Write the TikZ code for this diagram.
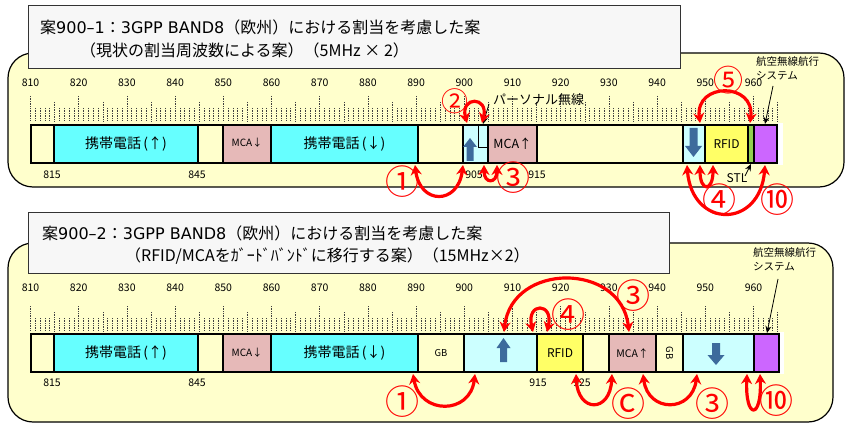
\documentclass[tikz,border=0pt]{standalone}
\usepackage{fontspec}
\setmainfont{Noto Sans CJK JP}
\newfontfamily\latfont{DejaVu Sans}
\usetikzlibrary{arrows.meta}
\definecolor{panelc}{HTML}{FFFFCC}
\definecolor{titlef}{HTML}{F7F7F7}
\definecolor{titled}{HTML}{333333}
\definecolor{cyanb}{HTML}{66FFFF}
\definecolor{pinkb}{HTML}{E6B9B8}
\definecolor{ltblue}{HTML}{CCFFFF}
\definecolor{yellowb}{HTML}{FFFF66}
\definecolor{greenb}{HTML}{92D050}
\definecolor{purpleb}{HTML}{CC66FF}
\definecolor{arrowblue}{HTML}{3D6B9C}
\definecolor{creamb}{HTML}{FFFFCC}
\newcommand\bandbox[6]{%
  \node[bandbox, fill=#5, minimum width={(#3-#2)*1pt}] (#1) at (#2,#4) {#6};}
\newcommand\uparrowshape[6]{% cx, top(tip), bottom, head w, shaft w, head h
  \fill[arrowblue] ({#1-#5/2},#3) -- ({#1-#5/2},{#2+#6}) -- ({#1-#4/2},{#2+#6}) -- (#1,#2)
   -- ({#1+#4/2},{#2+#6}) -- ({#1+#5/2},{#2+#6}) -- ({#1+#5/2},#3) -- cycle;}
\newcommand\downarrowshape[6]{% cx, top, bottom(tip), head w, shaft w, head h
  \fill[arrowblue] ({#1-#5/2},#2) -- ({#1-#5/2},{#3-#6}) -- ({#1-#4/2},{#3-#6}) -- (#1,#3)
   -- ({#1+#4/2},{#3-#6}) -- ({#1+#5/2},{#3-#6}) -- ({#1+#5/2},#2) -- cycle;}
\begin{document}
\begin{tikzpicture}[x=1pt,y=-1pt,
  panel/.style={draw=black, line width=1.2pt, fill=panelc, rounded corners=25pt},
  titlebox/.style={draw=titled, line width=1.2pt, fill=titlef, anchor=north west, inner sep=0pt},
  titletext/.style={anchor=west, inner sep=0pt, font=\fontsize{16}{18}\selectfont},
  bandbox/.style={draw=black, line width=1.2pt, anchor=north west, inner sep=0pt, outer sep=0pt,
     minimum height=38pt, font=\fontsize{14}{16}\selectfont},
  freq/.style={inner sep=0pt, font=\fontsize{10.5}{12}\selectfont},
  smalltxt/.style={inner sep=0pt, font=\fontsize{10.5}{14}\selectfont, align=left},
  circnum/.style={text=red, inner sep=0pt, font=\fontsize{34}{36}\selectfont},
  redarr/.style={draw=red, line width=3.2pt, {Stealth[length=10pt,width=11pt]}-{Stealth[length=10pt,width=11pt]}},
  lblarr/.style={draw=black, line width=0.8pt, -{Stealth[length=7pt,width=6pt]}},
  tickmark/.style={draw=black!75, line width=0.6pt, dash pattern=on 0.8pt off 0.9pt},
]
\useasboundingbox (0,0) rectangle (845,427);

% ---------- panels ----------
\draw[panel] (8,53) rectangle (844,187);
\draw[panel] (8,243) rectangle (833,422);

% ---------- titles ----------
\node[titlebox, minimum width=652pt, minimum height=63pt] (t1) at (28,5) {};
\node[titletext] (t1a) at (40,27) {案{\latfont 900–1}：{\latfont 3GPP BAND8}（欧州）における割当を考慮した案};
\node[titletext] (t1b) at (80,50) {（現状の割当周波数による案）（5MHz × 2）};
\node[titlebox, minimum width=641pt, minimum height=61pt] (t2) at (28,212) {};
\node[titletext] (t2a) at (42,233) {案{\latfont 900–2}：{\latfont 3GPP BAND8}（欧州）における割当を考慮した案};
\node[titletext] (t2b) at (125,256) {（RFID/MCAをｶﾞｰﾄﾞﾊﾞﾝﾄﾞに移行する案）（15MHz×2）};

% ---------- ticks ----------
\foreach \f in {810,...,965}{
  \pgfmathsetmacro\xx{30.5+4.82*(\f-810)}
  \pgfmathsetmacro\ty{mod(\f,10)==0 ? 96 : (mod(\f,5)==0 ? 102 : 108)}
  \draw[tickmark] (\xx,\ty) -- (\xx,121);
  \draw[tickmark] (\xx,{\ty+210}) -- (\xx,331);
}
\foreach \f in {810,820,...,960}{
  \pgfmathsetmacro\xx{30.5+4.82*(\f-810)}
  \node[freq] (fa\f) at (\xx,83) {\f};
  \node[freq] (fb\f) at (\xx,288) {\f};
}

% ---------- top band ----------
\bandbox{a0}{31}{54}{125}{creamb}{}
\bandbox{a1}{54}{198}{125}{cyanb}{携帯電話\,(↑)}
\bandbox{a2}{198}{223}{125}{creamb}{}
\bandbox{a3}{223}{271}{125}{pinkb}{\raisebox{4pt}{\fontsize{10}{12}\selectfont MCA↓}}
\bandbox{a4}{271}{418}{125}{cyanb}{携帯電話\,(↓)}
\bandbox{a5}{418}{463}{125}{creamb}{}
\bandbox{a6}{463}{488}{125}{ltblue}{}
\bandbox{a7}{488}{537}{125}{pinkb}{\fontsize{12.5}{14}\selectfont MCA↑}
\bandbox{a8}{537}{683}{125}{creamb}{}
\bandbox{a9}{683}{705}{125}{ltblue}{}
\bandbox{a10}{705}{748}{125}{yellowb}{\fontsize{12}{14}\selectfont RFID}
\bandbox{a11}{748}{754}{125}{greenb}{}
\bandbox{a12}{754}{777}{125}{purpleb}{}
\draw[line width=1pt] (478,125) -- (478,148) -- (488,148);
\fill[white] (778,123) rectangle (783,165);
\uparrowshape{470}{138}{161}{14}{7}{9}
\downarrowshape{693.5}{128}{157}{17}{8}{11}

\node[freq] (l815a) at (52,175) {815};
\node[freq] (l845a) at (197,175) {845};
\node[freq] (l905a) at (474,175) {905};
\node[freq] (l915a) at (537,175) {915};

% ---------- bottom band ----------
\bandbox{b0}{31}{54}{334}{creamb}{}
\bandbox{b1}{54}{198}{334}{cyanb}{携帯電話\,(↑)}
\bandbox{b2}{198}{223}{334}{creamb}{}
\bandbox{b3}{223}{271}{334}{pinkb}{\fontsize{10}{12}\selectfont MCA↓}
\bandbox{b4}{271}{418}{334}{cyanb}{携帯電話\,(↓)}
\bandbox{b5}{418}{464}{334}{creamb}{\fontsize{9.5}{11}\selectfont GB}
\bandbox{b6}{464}{537}{334}{ltblue}{}
\bandbox{b7}{537}{583}{334}{yellowb}{\fontsize{12}{14}\selectfont RFID}
\bandbox{b8}{583}{609}{334}{creamb}{}
\bandbox{b9}{609}{656}{334}{pinkb}{\fontsize{10.5}{12}\selectfont MCA↑}
\bandbox{b10}{656}{683}{334}{creamb}{\rotatebox{-90}{\fontsize{9.5}{11}\selectfont GB}}
\bandbox{b11}{683}{754}{334}{ltblue}{}
\bandbox{b12}{754}{779}{334}{purpleb}{}
\fill[white] (780,332) rectangle (784,374);
\uparrowshape{503.5}{338}{362}{14}{7}{10}
\downarrowshape{716}{343}{365}{17}{8}{10}

\node[freq] (l815b) at (52,383) {815};
\node[freq] (l845b) at (197,383) {845};
\node[freq] (l915b) at (538,383) {915};
\node[freq] (l925b) at (582,383) {925};

% ---------- labels with black arrows ----------
\node[anchor=west, inner sep=0pt, font=\fontsize{13}{15}\selectfont] (pers) at (493,100) {パーソナル無線};
\node[inner sep=0pt, font=\fontsize{12}{14}\selectfont] (stl) at (737,178) {STL};
\node[smalltxt, anchor=north west] (aero1) at (756,56) {航空無線航行\\システム};
\node[smalltxt, anchor=north west] (aero2) at (753,247) {航空無線航行\\システム};
\coordinate (p1) at (489,104); \coordinate (p2) at (483,124);
\coordinate (s1) at (745,176); \coordinate (s2) at (751,164);
\coordinate (g1) at (773,86);  \coordinate (g2) at (765,124);
\coordinate (h1) at (778,279); \coordinate (h2) at (767,333);
\draw[lblarr] (p1) -- (p2);
\draw[lblarr] (s1) -- (s2);
\draw[lblarr] (g1) -- (g2);
\draw[lblarr] (h1) -- (h2);

% ---------- red arrows, top ----------
\coordinate (ra1) at (415,165); \coordinate (ra2) at (463,165);
\coordinate (rb1) at (467,123); \coordinate (rb2) at (482,123);
\coordinate (rc1) at (484,165); \coordinate (rc2) at (497,165);
\coordinate (rd1) at (700,123); \coordinate (rd2) at (750,123);
\coordinate (re1) at (700,165); \coordinate (re2) at (713,165);
\coordinate (rf1) at (687,165); \coordinate (rf2) at (765,165);
\draw[redarr] (ra1) .. controls (420,205) and (458,205) .. (ra2);
\draw[redarr] (rb1) .. controls (460,96) and (489,96) .. (rb2);
\draw[redarr] (rc1) .. controls (484,184) and (497,184) .. (rc2);
\draw[redarr] (rd1) .. controls (695,82) and (755,82) .. (rd2);
\draw[redarr] (re1) .. controls (700,192) and (713,192) .. (re2);
\draw[redarr] (rf1) .. controls (692,229) and (760,229) .. (rf2);

% ---------- red arrows, bottom ----------
\coordinate (sa1) at (413,374); \coordinate (sa2) at (475,374);
\coordinate (sb1) at (576,374); \coordinate (sb2) at (612,374);
\coordinate (sc1) at (643,374); \coordinate (sc2) at (697,374);
\coordinate (sd1) at (747,374); \coordinate (sd2) at (760,374);
\coordinate (se1) at (504,332); \coordinate (se2) at (629,332);
\coordinate (sf1) at (533,332); \coordinate (sf2) at (547,332);
\draw[redarr] (sa1) .. controls (420,415) and (470,415) .. (sa2);
\draw[redarr] (sb1) .. controls (578,413) and (610,413) .. (sb2);
\draw[redarr] (sc1) .. controls (648,413) and (692,413) .. (sc2);
\draw[redarr] (sd1) .. controls (745,420) and (762,420) .. (sd2);
\draw[redarr] (se1) .. controls (512,262) and (621,262) .. (se2);
\draw[redarr] (sf1) .. controls (526,302) and (554,302) .. (sf2);

% ---------- circled numbers ----------
\node[circnum] (ca1) at (402,182) {①};
\node[circnum, font=\fontsize{27}{29}\selectfont] (ca2) at (455,101) {②};
\node[circnum] (ca3) at (513,178) {③};
\node[circnum, font=\fontsize{30}{32}\selectfont] (ca5) at (728,80) {⑤};
\node[circnum] (ca4) at (719,200) {④};
\node[circnum] (ca10) at (777,200) {⑩};
\node[circnum] (cb1) at (402,402) {①};
\node[circnum] (cb3) at (633,296) {③};
\node[circnum] (cb4) at (568,315) {④};
\node[circnum] (cbc) at (628,404) {Ⓒ};
\node[circnum] (cb3b) at (712,404) {③};
\node[circnum] (cb10) at (776,401) {⑩};
\end{tikzpicture}
\end{document}
